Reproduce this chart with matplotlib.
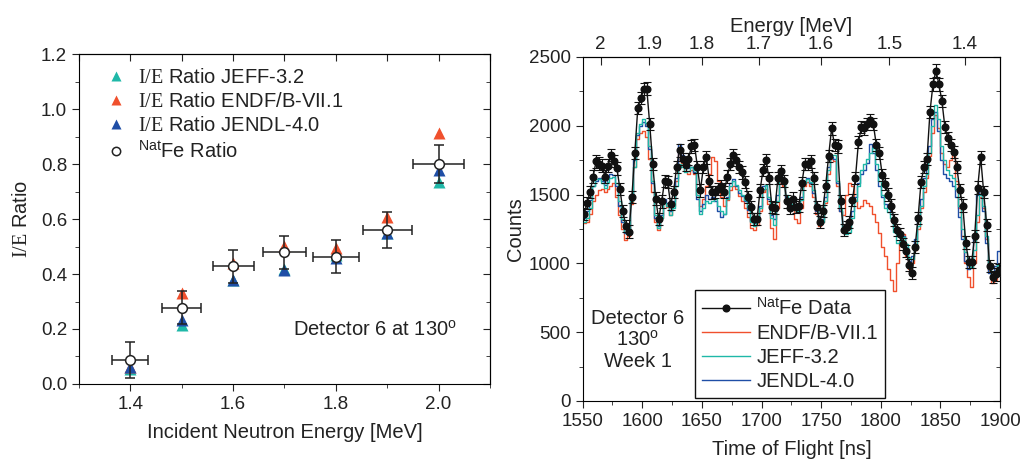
import numpy as np
import matplotlib
matplotlib.use("Agg")
import matplotlib.pyplot as plt
from matplotlib.lines import Line2D
from matplotlib.ticker import MultipleLocator, FixedLocator, FuncFormatter, NullLocator

plt.rcParams['font.family'] = ['Liberation Sans', 'DejaVu Sans']
plt.rcParams['mathtext.fontset'] = 'custom'
plt.rcParams['mathtext.rm'] = 'Liberation Serif'
plt.rcParams['mathtext.sf'] = 'Liberation Sans'
plt.rcParams['text.color'] = '#222222'
plt.rcParams['axes.labelcolor'] = '#222222'
plt.rcParams['xtick.color'] = '#222222'
plt.rcParams['ytick.color'] = '#222222'

# ---------------- left panel: inelastic/elastic ratios ----------------
energy = [1.4, 1.5, 1.6, 1.7, 1.8, 1.9, 2.0]
ratio_fe = [0.088, 0.278, 0.428, 0.479, 0.463, 0.560, 0.800]
ratio_fe_yerr = [0.065, 0.060, 0.060, 0.059, 0.061, 0.064, 0.068]
energy_xerr = [0.035, 0.038, 0.040, 0.042, 0.045, 0.048, 0.050]
ratio_jeff = [0.056, 0.215, 0.380, 0.420, 0.470, 0.550, 0.736]
ratio_endf = [0.060, 0.330, 0.440, 0.503, 0.496, 0.608, 0.914]
ratio_jendl = [0.062, 0.234, 0.380, 0.415, 0.460, 0.548, 0.778]

# ---------------- right panel: time-of-flight spectrum ----------------
tof_start, tof_bin = 1551.25, 2.5
counts_data = [
    1360, 1440, 1520, 1630, 1740, 1725, 1710, 1630, 1710, 1785,
    1745, 1690, 1540, 1380, 1270, 1230, 1480, 1800, 2130, 2200,
    2265, 2270, 2010, 1720, 1470, 1320, 1450, 1600, 1590, 1430,
    1520, 1700, 1820, 1760, 1715, 1760, 1850, 1860, 1700, 1530,
    1700, 1770, 1600, 1515, 1520, 1540, 1560, 1520, 1630, 1720,
    1785, 1750, 1700, 1660, 1590, 1480, 1410, 1320, 1320, 1530,
    1680, 1750, 1620, 1410, 1400, 1620, 1670, 1600, 1450, 1400,
    1470, 1410, 1420, 1580, 1720, 1720, 1740, 1620, 1410, 1300,
    1380, 1560, 1780, 1980, 1860, 1850, 1450, 1240, 1265, 1300,
    1460, 1620, 1880, 1990, 1980, 2010, 2040, 2010, 1860, 1800,
    1640, 1575, 1500, 1420, 1315, 1240, 1215, 1140, 1090, 990,
    930, 1120, 1330, 1590, 1700, 1760, 2100, 2300, 2400, 2300,
    2180, 1990, 1910, 1860, 1810, 1700, 1530, 1420, 1150, 1010,
    1010, 1200, 1550, 1770, 1520, 1280, 980, 900, 920, 950,
]
counts_err = 45

counts_endf = [
    1290, 1300, 1360, 1450, 1500, 1530, 1540, 1520, 1540, 1560,
    1580, 1480, 1350, 1250, 1170, 1200, 1430, 1700, 1900, 1950,
    1960, 1920, 1760, 1520, 1300, 1240, 1330, 1440, 1410, 1350,
    1420, 1600, 1800, 1730, 1670, 1650, 1680, 1650, 1500, 1420,
    1470, 1560, 1650, 1770, 1740, 1600, 1480, 1420, 1460, 1530,
    1560, 1540, 1490, 1450, 1400, 1340, 1260, 1240, 1280, 1380,
    1520, 1540, 1430, 1260, 1180, 1400, 1580, 1560, 1480, 1420,
    1410, 1320, 1290, 1400, 1560, 1590, 1560, 1480, 1360, 1270,
    1300, 1440, 1650, 1760, 1740, 1560, 1380, 1350, 1500, 1580,
    1560, 1450, 1400, 1420, 1460, 1440, 1420, 1360, 1300, 1220,
    1120, 1050, 960, 880, 800, 1000, 1150, 1210, 1050, 960,
    1000, 1100, 1250, 1400, 1520, 1620, 1780, 1950, 2080, 1980,
    1800, 1720, 1700, 1750, 1790, 1600, 1400, 1200, 1000, 900,
    830, 1000, 1300, 1480, 1400, 1180, 950, 860, 880, 920,
]
counts_jeff = [
    1300, 1330, 1400, 1560, 1610, 1610, 1580, 1550, 1590, 1620,
    1630, 1580, 1450, 1320, 1230, 1220, 1450, 1700, 1950, 2010,
    2050, 2020, 1850, 1600, 1350, 1260, 1330, 1440, 1420, 1350,
    1400, 1560, 1720, 1700, 1660, 1670, 1700, 1680, 1500, 1360,
    1400, 1450, 1440, 1450, 1470, 1420, 1380, 1360, 1470, 1560,
    1600, 1570, 1530, 1500, 1460, 1400, 1300, 1270, 1300, 1400,
    1540, 1570, 1480, 1330, 1280, 1450, 1620, 1590, 1500, 1440,
    1430, 1390, 1380, 1460, 1580, 1610, 1590, 1530, 1400, 1310,
    1300, 1450, 1680, 1790, 1790, 1600, 1400, 1250, 1210, 1230,
    1330, 1450, 1560, 1680, 1720, 1760, 1800, 1840, 1720, 1600,
    1500, 1400, 1370, 1330, 1230, 1150, 1160, 1190, 1140, 1040,
    1030, 1120, 1270, 1420, 1560, 1650, 1800, 2000, 2150, 2050,
    1850, 1750, 1680, 1640, 1620, 1540, 1420, 1250, 1080, 990,
    970, 1100, 1350, 1500, 1420, 1200, 960, 900, 930, 990,
]
counts_jendl = [
    1330, 1380, 1460, 1560, 1600, 1620, 1600, 1570, 1620, 1650,
    1640, 1560, 1420, 1300, 1220, 1230, 1470, 1750, 1930, 2000,
    2030, 2000, 1830, 1580, 1330, 1270, 1350, 1470, 1440, 1380,
    1450, 1620, 1870, 1790, 1700, 1690, 1700, 1660, 1470, 1380,
    1430, 1500, 1470, 1480, 1450, 1380, 1340, 1360, 1480, 1580,
    1610, 1560, 1510, 1490, 1450, 1390, 1310, 1290, 1320, 1420,
    1560, 1570, 1470, 1350, 1320, 1500, 1650, 1580, 1480, 1440,
    1450, 1420, 1400, 1480, 1600, 1620, 1580, 1510, 1380, 1290,
    1320, 1480, 1700, 1770, 1760, 1580, 1380, 1270, 1260, 1280,
    1380, 1480, 1580, 1650, 1680, 1730, 1870, 1800, 1680, 1560,
    1480, 1430, 1400, 1360, 1260, 1220, 1230, 1200, 1120, 1020,
    1050, 1180, 1350, 1470, 1620, 1720, 1850, 2050, 2100, 1960,
    1750, 1650, 1620, 1600, 1560, 1480, 1340, 1180, 1020, 960,
    1000, 1200, 1500, 1530, 1380, 1150, 930, 920, 980, 1090,
]
tof = tof_start + tof_bin * np.arange(len(counts_data))

# TOF <-> neutron energy (E ~ 1/t^2)
tof_const = 2213.4
energy_ticks = [2.0, 1.9, 1.8, 1.7, 1.6, 1.5, 1.4]

c_teal = '#1fb8a8'
c_red = '#f0502d'
c_blue = '#1f4ea6'

fig = plt.figure(figsize=(10.24, 4.66), dpi=100)
ax1 = fig.add_axes([0.0771, 0.176, 0.4014, 0.708])
ax2 = fig.add_axes([0.569, 0.1395, 0.4076, 0.7385])

fs = 13.5      # tick labels
fl = 14.5      # axis labels, legends, notes

# ---- left ----
ax1.plot(energy, ratio_jeff, '^', color=c_teal, ms=8, mec='none')
ax1.plot(energy, ratio_endf, '^', color=c_red, ms=8, mec='none')
ax1.plot(energy, ratio_jendl, '^', color=c_blue, ms=8, mec='none')
ax1.errorbar(energy, ratio_fe, yerr=ratio_fe_yerr, xerr=energy_xerr, fmt='o', color='#222222',
             mfc='white', mec='#222222', ms=7, mew=1.1, elinewidth=1.1, capsize=3.5, capthick=1.1,
             zorder=5)
ax1.set_xlim(1.3, 2.1)
ax1.set_ylim(0, 1.2)
ax1.xaxis.set_major_locator(FixedLocator([1.4, 1.6, 1.8, 2.0]))
ax1.xaxis.set_minor_locator(FixedLocator([1.3, 1.5, 1.7, 1.9, 2.1]))
ax1.yaxis.set_major_locator(MultipleLocator(0.2))
ax1.yaxis.set_minor_locator(MultipleLocator(0.1))
ax1.xaxis.set_major_formatter(FuncFormatter(lambda v, p: f"{v:.1f}"))
ax1.yaxis.set_major_formatter(FuncFormatter(lambda v, p: f"{v:.1f}"))
ax1.tick_params(which='both', direction='out', labelsize=fs, top=False, right=False)
ax1.tick_params(which='major', length=5)
ax1.tick_params(which='minor', length=3)
ax1.set_xlabel('Incident Neutron Energy [MeV]', fontsize=fl, labelpad=7)
ax1.set_ylabel(r'$\mathrm{I/E}$ Ratio', fontsize=fl, labelpad=7)
sec_t1 = ax1.secondary_xaxis('top')
sec_t1.xaxis.set_major_locator(MultipleLocator(0.1))
sec_t1.tick_params(direction='in', length=5, labeltop=False)
sec_r1 = ax1.secondary_yaxis('right')
sec_r1.yaxis.set_major_locator(MultipleLocator(0.2))
sec_r1.yaxis.set_minor_locator(MultipleLocator(0.1))
sec_r1.tick_params(which='both', direction='in', labelright=False)
sec_r1.tick_params(which='major', length=5)
sec_r1.tick_params(which='minor', length=3)

left_handles = [
    Line2D([], [], ls='none', marker='^', color=c_teal, ms=7, mec='none'),
    Line2D([], [], ls='none', marker='^', color=c_red, ms=7, mec='none'),
    Line2D([], [], ls='none', marker='^', color=c_blue, ms=7, mec='none'),
    Line2D([], [], ls='none', marker='o', mfc='white', mec='#222222', ms=6, mew=1.1),
]
left_labels = [r'$\mathrm{I/E}$ Ratio JEFF-3.2', r'$\mathrm{I/E}$ Ratio ENDF/B-VII.1',
               r'$\mathrm{I/E}$ Ratio JENDL-4.0', r'$^{\mathsf{Nat}}$Fe Ratio']
ax1.legend(left_handles, left_labels, loc='upper left', frameon=False, fontsize=fl,
           handletextpad=0.5, handlelength=1.1, labelspacing=0.25,
           borderaxespad=0.3, bbox_to_anchor=(0.03, 1.0))
ax1.text(0.72, 0.165, r'Detector 6 at 130$^{\mathsf{o}}$', transform=ax1.transAxes,
         ha='center', va='center', fontsize=fl)

# ---- right ----
ax2.step(tof, counts_endf, where='mid', color=c_red, lw=1.0, zorder=2)
ax2.step(tof, counts_jendl, where='mid', color=c_blue, lw=1.0, zorder=3)
ax2.step(tof, counts_jeff, where='mid', color=c_teal, lw=1.0, zorder=4)
ax2.errorbar(tof, counts_data, yerr=counts_err, fmt='-o', color='#111111', ms=4.8, lw=1.0,
             elinewidth=0.8, capsize=3, capthick=0.8, zorder=6)
ax2.set_xlim(1550, 1900)
ax2.set_ylim(0, 2500)
ax2.xaxis.set_major_locator(MultipleLocator(50))
ax2.xaxis.set_minor_locator(MultipleLocator(25))
ax2.yaxis.set_major_locator(MultipleLocator(500))
ax2.yaxis.set_minor_locator(MultipleLocator(250))
ax2.tick_params(which='both', direction='out', labelsize=fs, top=False, right=False)
ax2.tick_params(which='major', length=5)
ax2.tick_params(which='minor', length=3)
ax2.set_xlabel('Time of Flight [ns]', fontsize=fl, labelpad=7)
ax2.set_ylabel('Counts', fontsize=fl, labelpad=3)

sec_t2 = ax2.secondary_xaxis('top', functions=(lambda t: (tof_const / np.asarray(t, float)) ** 2,
                                               lambda e: tof_const / np.sqrt(np.asarray(e, float))))
sec_t2.xaxis.set_major_locator(FixedLocator(energy_ticks))
sec_t2.xaxis.set_minor_locator(NullLocator())
sec_t2.xaxis.set_major_formatter(FuncFormatter(lambda v, p: f"{v:g}"))
sec_t2.tick_params(direction='in', length=6, labelsize=fs, pad=3)
sec_t2.set_xlabel('Energy [MeV]', fontsize=fl, labelpad=3)
sec_r2 = ax2.secondary_yaxis('right')
sec_r2.yaxis.set_major_locator(MultipleLocator(500))
sec_r2.yaxis.set_minor_locator(MultipleLocator(250))
sec_r2.tick_params(which='both', direction='in', labelright=False)
sec_r2.tick_params(which='major', length=5)
sec_r2.tick_params(which='minor', length=3)

right_handles = [
    Line2D([], [], color='#111111', lw=1.0, marker='o', ms=4.8),
    Line2D([], [], color=c_red, lw=1.0),
    Line2D([], [], color=c_teal, lw=1.0),
    Line2D([], [], color=c_blue, lw=1.0),
]
right_labels = [r'$^{\mathsf{Nat}}$Fe Data', 'ENDF/B-VII.1', 'JEFF-3.2', 'JENDL-4.0']
leg = ax2.legend(right_handles, right_labels, loc='lower left',
                 bbox_to_anchor=(0.269, 0.009), borderaxespad=0, fontsize=fl,
                 fancybox=False, framealpha=1, edgecolor='#111111', handlelength=2.4,
                 handletextpad=0.3, labelspacing=0.25, borderpad=0.35)
leg.get_frame().set_linewidth(1.0)
leg.set_zorder(10)
ax2.text(0.132, 0.177, 'Detector 6\n130$^{\\mathsf{o}}$\nWeek 1', transform=ax2.transAxes,
         ha='center', va='center', fontsize=fl, linespacing=1.15)

fig.savefig('out.png', dpi=100)
